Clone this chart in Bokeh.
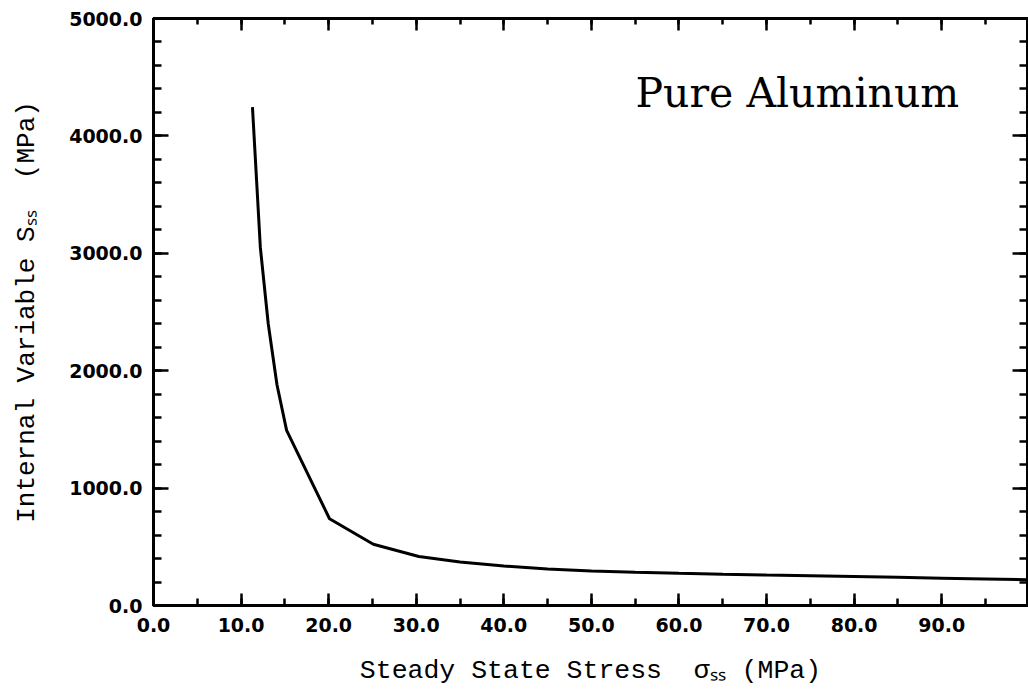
import math
from bokeh.plotting import figure
from bokeh.models import (Range1d, SingleIntervalTicker, LinearAxis,
                          NumeralTickFormatter, Label, CustomJSTickFormatter)
from bokeh.embed import file_html
from bokeh.resources import INLINE

# ---- data ----
stress = [11.3, 12.2, 13.1, 14.1, 15.2, 20.1, 25.1, 30.3, 35.0, 40.0, 45.0,
          50.0, 55.0, 60.0, 65.0, 70.0, 75.0, 80.0, 85.0, 90.0, 95.0, 100.0]
s_ss = [4245, 3050, 2400, 1880, 1492, 739, 522, 418, 370, 337, 310,
        293, 283, 274, 266, 259, 253, 247, 240, 233, 226, 219]

x_ticks_interval = 10
y_ticks_interval = 1000
NB = "\u00a0"
x_title = "Steady State Stress" + NB * 2 + "\u03c3\u209b\u209b" + NB + "(MPa)"
y_title = "Internal Variable S\u209b\u209b" + NB * 2 + "(MPa)"
inset_title = "Pure Aluminum"

FL, FB = 153, 605  # frame left / bottom in canvas pixels (for label placement)

p = figure(width=1028, height=689, x_range=Range1d(0, 99.8), y_range=Range1d(0, 5000),
           output_backend="svg", toolbar_location=None,
           min_border_left=FL, min_border_right=1, min_border_top=18,
           min_border_bottom=84)
p.background_fill_color = "white"
p.border_fill_color = "white"
p.outline_line_color = "black"
p.outline_line_width = 3
p.xgrid.visible = False
p.ygrid.visible = False

p.line(stress, s_ss, line_color="black", line_width=3)

xt = SingleIntervalTicker(interval=x_ticks_interval, num_minor_ticks=2)
yt = SingleIntervalTicker(interval=y_ticks_interval, num_minor_ticks=5)


def style(ax, major_in, minor_in):
    ax.axis_line_color = "black"
    ax.axis_line_width = 3
    ax.major_tick_line_color = "black"
    ax.major_tick_line_width = 2.5
    ax.minor_tick_line_color = "black"
    ax.minor_tick_line_width = 2.5
    ax.major_tick_in = major_in
    ax.major_tick_out = 0
    ax.minor_tick_in = minor_in
    ax.minor_tick_out = 0


mono = "Liberation Mono"

xa = p.xaxis[0]
xa.ticker = xt
xa.formatter = NumeralTickFormatter(format="0.0")
style(xa, 12, 7)
xa.major_label_text_font = "DejaVu Sans"
xa.major_label_text_font_style = "bold"
xa.major_label_text_font_size = "19px"
xa.major_label_text_color = "black"
xa.major_label_standoff = 12
xa.axis_label = x_title
xa.axis_label_text_font = mono
xa.axis_label_text_font_style = "normal"
xa.axis_label_text_font_size = "26.5px"
xa.axis_label_text_color = "black"
xa.axis_label_standoff = 21

ya = p.yaxis[0]
ya.ticker = yt
ya.formatter = NumeralTickFormatter(format="0.0")
style(ya, 15, 8)
ya.major_label_text_font = "DejaVu Sans"
ya.major_label_text_font_style = "bold"
ya.major_label_text_font_size = "19px"
ya.major_label_text_color = "black"
ya.major_label_standoff = 11
ya.axis_label = y_title
ya.axis_label_text_font = mono
ya.axis_label_text_font_style = "normal"
ya.axis_label_text_font_size = "26px"
ya.axis_label_text_color = "black"
ya.axis_label_standoff = 24

blank = CustomJSTickFormatter(code="return ''")
top = LinearAxis(ticker=SingleIntervalTicker(interval=x_ticks_interval, num_minor_ticks=2),
                 formatter=blank, major_label_standoff=0)
style(top, 12, 6)
p.add_layout(top, "above")
right = LinearAxis(ticker=SingleIntervalTicker(interval=y_ticks_interval, num_minor_ticks=5),
                   formatter=blank, major_label_standoff=0)
style(right, 15, 8)
p.add_layout(right, "right")

# inset title
p.add_layout(Label(x=635 - FL, y=FB - 92, x_units="screen", y_units="screen",
                   text=inset_title, text_font="DejaVu Serif", text_font_size="41px",
                   text_color="black", text_align="left", text_baseline="alphabetic"))

open("out.html", "w").write(file_html(p, INLINE))
